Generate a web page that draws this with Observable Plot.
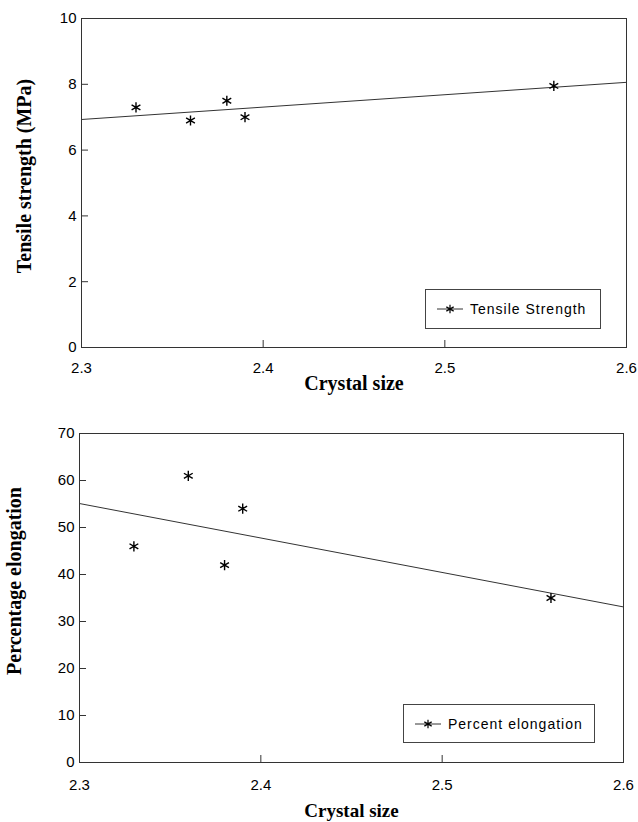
<!DOCTYPE html>
<html>
<head>
<meta charset="utf-8">
<script src="https://cdn.jsdelivr.net/npm/d3@7"></script>
<script src="https://cdn.jsdelivr.net/npm/@observablehq/plot@0.6"></script>
<style>
  html, body { margin: 0; padding: 0; background: #fff; }
  #wrap { position: relative; width: 638px; height: 822px; }
  #wrap svg { display: block; }
  .legend {
    position: absolute; box-sizing: border-box;
    border: 1px solid #444; background: #fff;
    display: flex; align-items: center;
    font-family: "Liberation Sans", Arial, sans-serif; font-size: 14px;
    letter-spacing: 1px; color: #000;
  }
  .legend svg { margin-left: 11px; margin-right: 7px; }
</style>
</head>
<body>
<div id="wrap"></div>
<script>
// ---- data ----
const crystalSize = [2.33, 2.36, 2.38, 2.39, 2.56];
const tensileStrength = [7.3, 6.9, 7.5, 7.0, 7.95];
const percentElongation = [46, 61, 42, 54, 35];
const fitX = [2.3, 2.6];
const fitTensile = [6.93, 8.06];
const fitElongation = [55.1, 33.1];
const xTicks = [2.3, 2.4, 2.5, 2.6];
const yTicksTop = [0, 2, 4, 6, 8, 10];
const yTicksBottom = [0, 10, 20, 30, 40, 50, 60, 70];
const xLabel = "Crystal size";
const yLabelTop = "Tensile strength (MPa)";
const yLabelBottom = "Percentage elongation";
const legendTop = "Tensile Strength";
const legendBottom = "Percent elongation";

const pts = (ys) => crystalSize.map((x, i) => ({x, y: ys[i]}));
const fit = (ys) => fitX.map((x, i) => ({x, y: ys[i]}));

const sans = "'Liberation Sans', Arial, sans-serif";
const serif = "'Liberation Serif', 'Times New Roman', serif";

function chart({data, line, yDomain, yTicks, yLabel, height, margins, xTickPad, xLabelDy, xLabelSize, yLabelDx, yLabelDy}) {
  const innerTicksX = xTicks.slice(1, -1);
  const innerTicksY = yTicks.slice(1, -1);
  const innerW = 638 - margins.marginLeft - margins.marginRight;
  const innerH = height - margins.marginTop - margins.marginBottom;
  return Plot.plot({
    width: 638,
    height,
    ...margins,
    style: {background: "#fff", color: "#000", overflow: "visible"},
    x: {domain: [2.3, 2.6]},
    y: {domain: yDomain},
    marks: [
      Plot.frame({stroke: "#333", strokeWidth: 1}),
      // short inward tick marks
      Plot.ruleX(innerTicksX, {insetTop: innerH - 7, stroke: "#333"}),
      Plot.ruleY(innerTicksY, {insetRight: innerW - 7, stroke: "#333"}),
      Plot.axisX(xTicks, {anchor: "bottom", tickSize: 0, tickPadding: xTickPad, tickFormat: d3.format(".1f"),
        fontSize: 15, fontFamily: sans, label: null, style: "letter-spacing:1.5px"}),
      Plot.axisY(yTicks, {anchor: "left", tickSize: 0, tickPadding: 5, tickFormat: d3.format("d"),
        fontSize: 15, fontFamily: sans, label: null, style: "letter-spacing:1px"}),
      Plot.line(line, {x: "x", y: "y", stroke: "#333", strokeWidth: 1}),
      Plot.dot(data, {x: "x", y: "y", symbol: "asterisk", r: 4.8, stroke: "#000", strokeWidth: 1.4}),
      Plot.text([xLabel], {frameAnchor: "bottom", dy: xLabelDy, lineAnchor: "middle", fontFamily: serif,
        fontWeight: "bold", fontSize: xLabelSize, style: "letter-spacing:0.4px"}),
      Plot.text([yLabel], {frameAnchor: "left", rotate: -90, dx: yLabelDx, dy: yLabelDy, lineAnchor: "middle",
        textAnchor: "middle", fontFamily: serif, fontWeight: "bold", fontSize: 20, style: "letter-spacing:1px"})
    ]
  });
}

const wrap = document.getElementById("wrap");

const topChart = chart({
  data: pts(tensileStrength), line: fit(fitTensile), yDomain: [0, 10], yTicks: yTicksTop, yLabel: yLabelTop,
  height: 400, margins: {marginLeft: 81, marginRight: 12, marginTop: 18, marginBottom: 53},
  xTickPad: 15, xLabelDy: 36, xLabelSize: 20, yLabelDx: -57, yLabelDy: -7
});
const bottomChart = chart({
  data: pts(percentElongation), line: fit(fitElongation), yDomain: [0, 70], yTicks: yTicksBottom, yLabel: yLabelBottom,
  height: 422, margins: {marginLeft: 79, marginRight: 15, marginTop: 33, marginBottom: 60},
  xTickPad: 17, xLabelDy: 48, xLabelSize: 19, yLabelDx: -65, yLabelDy: -17
});
wrap.appendChild(topChart);
wrap.appendChild(bottomChart);

function legend(label, left, topPx, w, h) {
  const div = document.createElement("div");
  div.className = "legend";
  Object.assign(div.style, {left: left + "px", top: topPx + "px", width: w + "px", height: h + "px"});
  const s = d3.create("svg").attr("width", 26).attr("height", 12);
  s.append("line").attr("x1", 0).attr("x2", 26).attr("y1", 6).attr("y2", 6).attr("stroke", "#333");
  s.append("path").attr("transform", "translate(13,6)").attr("d", d3.symbol(d3.symbolAsterisk, 50)())
    .attr("stroke", "#000").attr("stroke-width", 1.2).attr("fill", "none");
  div.appendChild(s.node());
  const t = document.createElement("span");
  t.textContent = label;
  div.appendChild(t);
  wrap.appendChild(div);
}
legend(legendTop, 425, 289, 176, 40);
legend(legendBottom, 403, 704, 192, 39);
</script>
</body>
</html>
